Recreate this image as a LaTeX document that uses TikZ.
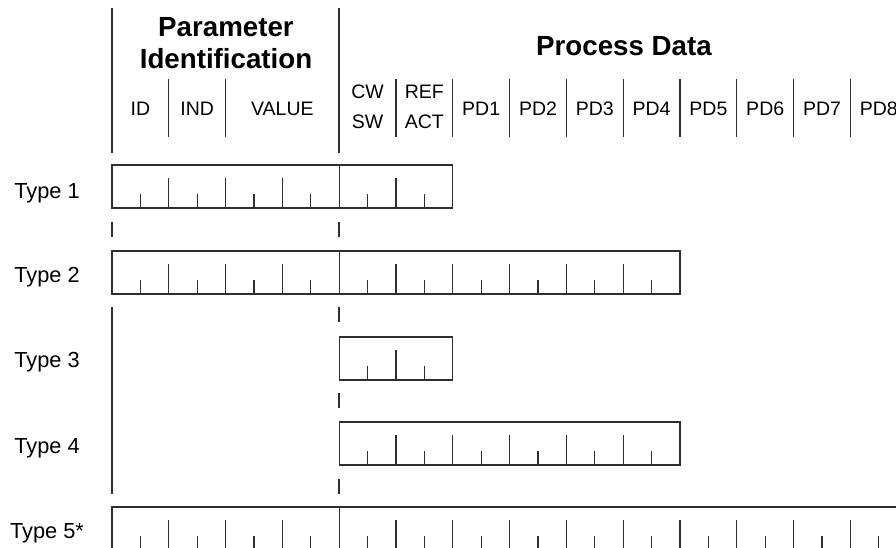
\documentclass[tikz,border=0pt]{standalone}
\usepackage{fontspec}
\setmainfont{Liberation Sans}
\usetikzlibrary{positioning}

% word width and row height
\newcommand{\wordw}{56.8}
\newcommand{\rowh}{43}

% one telegram row: first word, last word, top edge
\newcommand{\msgrow}[3]{%
  \draw[frame] ({112+#1*\wordw},#3) rectangle ({112+#2*\wordw},#3+\rowh);
  \foreach \k in {#1,...,#2} {
    \ifnum\k<#2
      \draw[frame] ({112+(\k+0.5)*\wordw},#3+\rowh) -- ++(0,-14);
    \fi
    \ifnum\k>#1 \ifnum\k<#2
      \ifnum\k=4
        \draw[frame] ({112+\k*\wordw},#3) -- ++(0,\rowh);
      \else
        \draw[frame] ({112+\k*\wordw},#3+\rowh) -- ++(0,-30);
      \fi
    \fi\fi
  }%
}

\begin{document}
\begin{tikzpicture}[
    x=1pt, y=-1pt,
    frame/.style={draw=black!82, line width=1.3pt},
    title/.style={anchor=base, inner sep=0pt, font=\bfseries\fontsize{27.7}{30}\selectfont},
    field/.style={anchor=base, inner sep=0pt, font=\fontsize{19.5}{22}\selectfont},
    typelbl/.style={anchor=base, inner sep=0pt, font=\fontsize{21.8}{24}\selectfont}
]
\clip (0,0) rectangle (896,547);

% HEADER
\node[title] (param) at (226,36) {Parameter};
\node[title] (ident) at (226,68) {Identification};
\node[title] (procdata) at (624,55) {Process Data};

\draw[frame] (112,8) -- (112,153);
\draw[frame] (339,8) -- (339,153);
\foreach \k in {1,2,5,6,...,13}
  \draw[frame] ({112+\k*\wordw},79) -- ({112+\k*\wordw},137);

% field names
\node[field] (id) at ({112+0.5*\wordw},115) {ID};
\node[field] (ind) at ({112+1.5*\wordw},115) {IND};
\node[field] (value) at ({112+3*\wordw},115) {VALUE};
\node[field] (cw) at ({112+4.5*\wordw},98) {CW};
\node[field] (sw) at ({112+4.5*\wordw},128) {SW};
\node[field] (ref) at ({112+5.5*\wordw},98) {REF};
\node[field] (act) at ({112+5.5*\wordw},128) {ACT};
\foreach \n in {1,...,8}
  \node[field] (pd\n) at ({112+(5.5+\n)*\wordw},115) {PD\n};

% TYPE LABELS
\node[typelbl] (type1) at (47,198) {Type 1};
\node[typelbl] (type2) at (47,282) {Type 2};
\node[typelbl] (type3) at (47,367) {Type 3};
\node[typelbl] (type4) at (47,453) {Type 4};
\node[typelbl] (type5) at (47,538) {Type 5*};

% ROWS
\msgrow{0}{6}{165}
\msgrow{0}{10}{251}
\msgrow{4}{6}{337}
\msgrow{4}{10}{422}
\msgrow{0}{14}{507}

% guide marks between rows
\draw[frame] (112,222) -- (112,237);
\draw[frame] (339,222) -- (339,237);
\draw[frame] (112,307) -- (112,494);
\foreach \y in {307,393,479}
  \draw[frame] (339,\y) -- (339,\y+15);

\end{tikzpicture}
\end{document}
